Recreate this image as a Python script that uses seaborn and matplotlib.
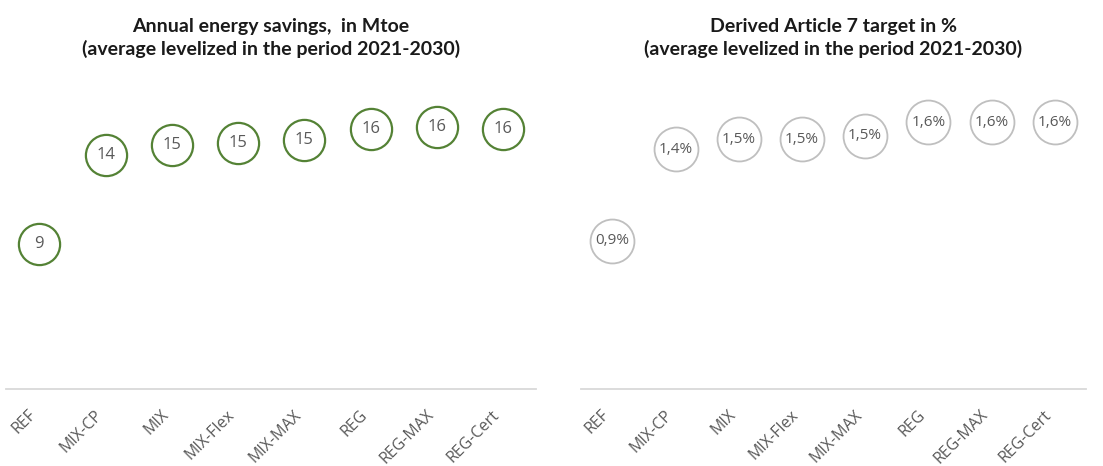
import matplotlib
matplotlib.use("Agg")
import matplotlib.pyplot as plt
import seaborn as sns
import pandas as pd

# --- DATA ---
scenarios = ["REF", "MIX-CP", "MIX", "MIX-Flex", "MIX-MAX", "REG", "REG-MAX", "REG-Cert"]
savings_mtoe = [8.9, 14.4, 15.0, 15.1, 15.3, 16.0, 16.1, 16.0]
target_pct = [0.89, 1.44, 1.50, 1.50, 1.52, 1.60, 1.60, 1.60]

title_left = "Annual energy savings,  in Mtoe\n(average levelized in the period 2021-2030)"
title_right = "Derived Article 7 target in %\n(average levelized in the period 2021-2030)"

# --- STYLE ---
sns.set_theme(style="white")
plt.rcParams['font.family'] = ['Open Sans', 'DejaVu Sans']
green = '#548235'
grey_edge = '#BFBFBF'
text_grey = '#595959'

df = pd.DataFrame({"scenario": scenarios, "savings": savings_mtoe, "target": target_pct})

fig = plt.figure(figsize=(11.03, 4.66), dpi=100)
ax1 = fig.add_axes([0.0056, 0.1652, 0.4805, 0.6983])
ax2 = fig.add_axes([0.5265, 0.1652, 0.4584, 0.6983])


def style_axis(ax, ymax, title, title_x):
    ax.set_xlim(-0.5, len(scenarios) - 0.5)
    ax.set_ylim(0, ymax)
    ax.set_xlabel("")
    ax.set_ylabel("")
    ax.set_yticks([])
    for s in ["top", "left", "right"]:
        ax.spines[s].set_visible(False)
    ax.spines["bottom"].set_color('#D9D9D9')
    ax.spines["bottom"].set_linewidth(1.3)
    ax.tick_params(axis='x', length=0, pad=21, colors=text_grey, labelsize=11.5)
    for lab in ax.get_xticklabels():
        lab.set_rotation(45)
        lab.set_ha('right')
        lab.set_va('bottom')
        lab.set_rotation_mode('anchor')
    fig.text(title_x, 0.918, title, ha='center', va='center', fontsize=14,
             fontweight='bold', color='#1A1A1A', family=['Lato', 'DejaVu Sans'],
             linespacing=1.3)


# Graph 1: annual energy savings
sns.scatterplot(data=df, x="scenario", y="savings", ax=ax1, s=880, color='white',
                edgecolor=green, linewidth=1.6, zorder=3)
for i, v in enumerate(savings_mtoe):
    ax1.text(i, v, f"{v:.0f}", ha='center', va='center', fontsize=12,
             color=text_grey, zorder=4)
style_axis(ax1, 20, title_left, 0.2458)

# Graph 2: derived Article 7 target
sns.scatterplot(data=df, x="scenario", y="target", ax=ax2, s=1000, color='white',
                edgecolor=grey_edge, linewidth=1.3, zorder=3)
for i, v in enumerate(target_pct):
    ax2.text(i, v, f"{v:.1f}%".replace('.', ','), ha='center', va='center',
             fontsize=11, color=text_grey, zorder=4)
style_axis(ax2, 1.953, title_right, 0.7557)

fig.savefig("out.png", dpi=100, facecolor='white')
